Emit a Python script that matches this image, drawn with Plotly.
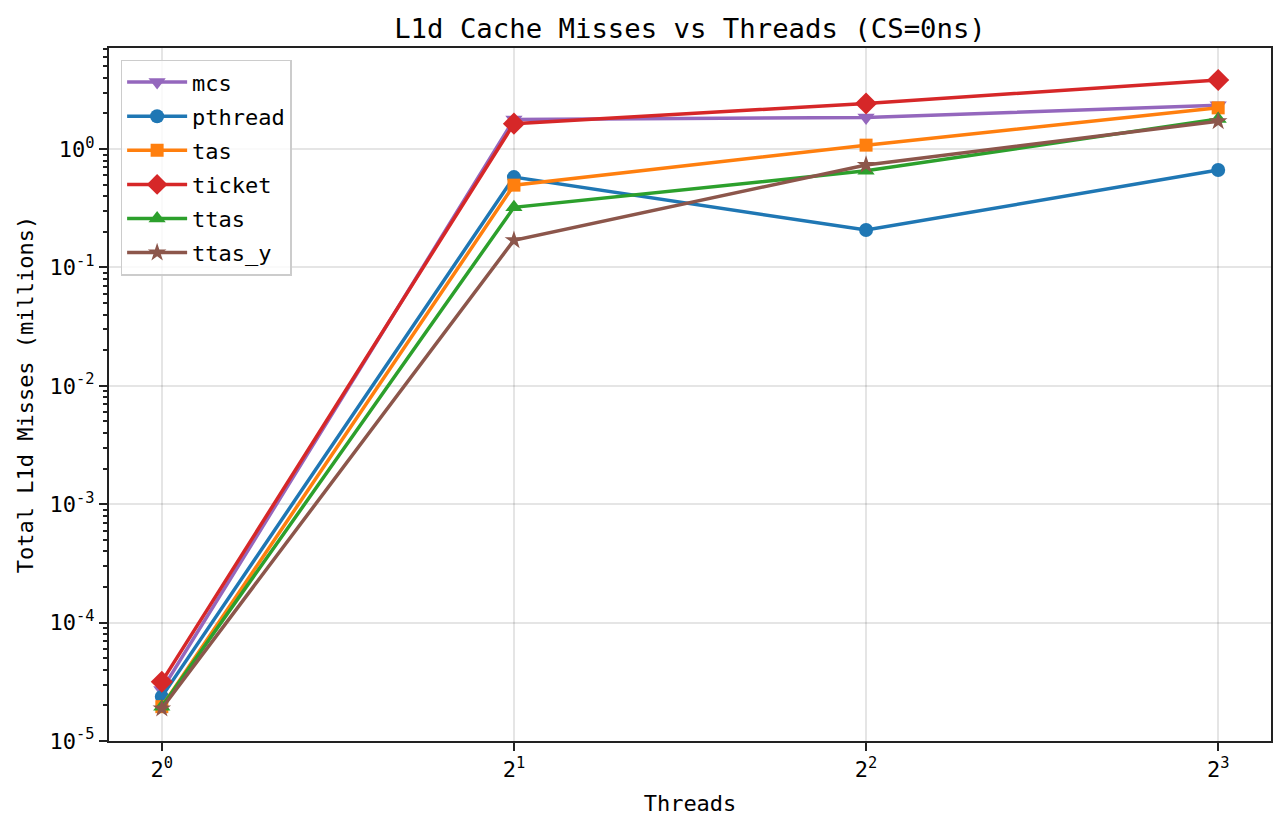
import numpy as np
import plotly.graph_objects as go

threads = [1, 2, 4, 8]
series_names = ["mcs", "pthread", "tas", "ticket", "ttas", "ttas_y"]
mcs = [2.70e-5, 1.78, 1.85, 2.35]
pthread = [2.37e-5, 0.58, 0.207, 0.665]
tas = [1.95e-5, 0.496, 1.08, 2.23]
ticket = [3.17e-5, 1.64, 2.43, 3.83]
ttas = [1.95e-5, 0.322, 0.655, 1.80]
ttas_y = [1.88e-5, 0.170, 0.735, 1.72]

x_tick_vals = [1, 2, 4, 8]
x_tick_text = ["2<sup>0</sup>", "2<sup>1</sup>", "2<sup>2</sup>", "2<sup>3</sup>"]
y_tick_exps = [-5, -4, -3, -2, -1, 0]

values = [mcs, pthread, tas, ticket, ttas, ttas_y]
colors = ["#9467bd", "#1f77b4", "#ff7f0e", "#d62728", "#2ca02c", "#8c564b"]
symbols = ["triangle-down", "circle", "square", "diamond", "triangle-up", "star"]
sizes = [15, 14, 13, 17, 15, 14]

FONT = "DejaVu Sans Mono"

fig = go.Figure()
for name, vals, c, s, sz in zip(series_names, values, colors, symbols, sizes):
    fig.add_trace(go.Scatter(
        x=threads, y=vals, name=name, legendgroup=name, mode="lines+markers",
        line=dict(color=c, width=3.5),
        marker=dict(symbol=s, size=sz, color=c, line=dict(width=0)),
    ))

y_tick_vals = [10.0 ** e for e in y_tick_exps]
y_tick_text = ["10<sup>%d</sup>" % e for e in y_tick_exps]
minor_vals = [m * 10.0 ** e for e in range(-5, 1) for m in range(2, 10)]

xr = [np.log10(2) * -0.15, np.log10(2) * 3.15]
ytop = 0.854
fig.update_layout(
    width=1286, height=828,
    margin=dict(l=109, r=15, t=48, b=87),
    paper_bgcolor="white", plot_bgcolor="white",
    font=dict(family=FONT, size=22, color="black"),
    title=dict(text="L1d Cache Misses vs Threads (CS=0ns)", x=0.5, xref="paper",
               xanchor="center", y=1 - 28 / 828, yanchor="middle",
               font=dict(family=FONT, size=27.3, color="black")),
    showlegend=True,
    legend=dict(x=0.01, y=0.983, xanchor="left", yanchor="top",
                bgcolor="rgba(255,255,255,0.8)", bordercolor="#cccccc", borderwidth=1.5,
                font=dict(family=FONT, size=22), tracegroupgap=2.5, itemwidth=60),
    xaxis=dict(type="log", range=xr, tickmode="array", tickvals=x_tick_vals,
               ticktext=x_tick_text, showgrid=True, gridcolor="rgba(0,0,0,0.1)", gridwidth=1.5,
               showline=True, linecolor="#222222", linewidth=2, mirror=True,
               ticks="outside", ticklen=8, tickwidth=2, tickcolor="#222222",
               zeroline=False,
               title=dict(text="Threads", font=dict(family=FONT, size=22), standoff=14)),
    yaxis=dict(type="log", range=[-5, ytop], tickmode="array", tickvals=y_tick_vals,
               ticktext=y_tick_text, showgrid=True, gridcolor="rgba(0,0,0,0.1)", gridwidth=1.5,
               showline=True, linecolor="#222222", linewidth=2, mirror=True,
               ticks="outside", ticklen=8, tickwidth=2, tickcolor="#222222",
               zeroline=False,
               minor=dict(tickmode="array", tickvals=minor_vals, ticks="outside",
                          ticklen=4.5, tickwidth=1.5, tickcolor="#222222", showgrid=False),
               title=dict(text="Total L1d Misses (millions)", font=dict(family=FONT, size=22), standoff=10)),
)

fig.write_html("out.html")
